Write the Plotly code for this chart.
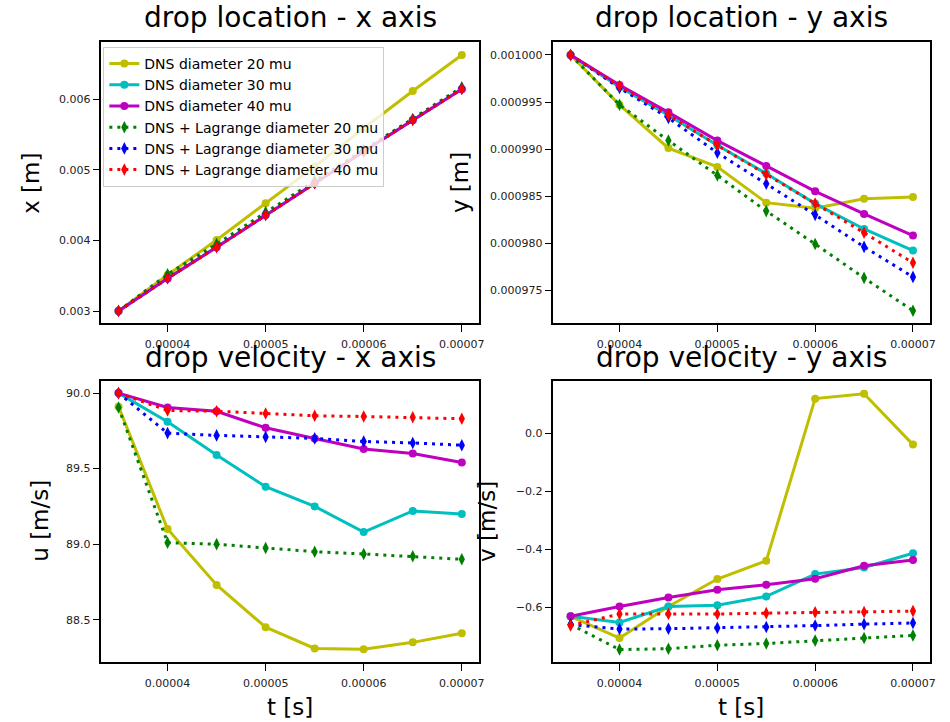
import plotly.graph_objects as go
from plotly.subplots import make_subplots

t = [0.000035, 0.00004, 0.000045, 0.00005, 0.000055, 0.00006, 0.000065, 0.00007]
tick_vals = [0.00004, 0.00005, 0.00006, 0.00007]
tick_text = ["0.00004", "0.00005", "0.00006", "0.00007"]

names = ["DNS diameter 20 mu", "DNS diameter 30 mu", "DNS diameter 40 mu",
         "DNS + Lagrange diameter 20 mu", "DNS + Lagrange diameter 30 mu",
         "DNS + Lagrange diameter 40 mu"]
colors = ["#bfbf00", "#00bfbf", "#bf00bf", "#008000", "#0000ff", "#ff0000"]

# drop location x [m]
x_dns20 = [0.003, 0.00351, 0.004006, 0.004525, 0.005045, 0.005588, 0.006116, 0.006626]
x_dns30 = [0.003, 0.003463, 0.003905, 0.004362, 0.004810, 0.005262, 0.005706, 0.006144]
x_dns40 = [0.003, 0.003460, 0.003902, 0.004358, 0.004807, 0.005258, 0.005703, 0.006140]
x_lag20 = [0.003, 0.003520, 0.003950, 0.004400, 0.004840, 0.005280, 0.005720, 0.006170]
x_lag30 = [0.003, 0.003465, 0.003908, 0.004362, 0.004812, 0.005262, 0.005708, 0.006148]
x_lag40 = [0.003, 0.003463, 0.003904, 0.004360, 0.004809, 0.005260, 0.005705, 0.006144]

# drop location y [m]
y_dns20 = [0.001000, 0.0009947, 0.0009901, 0.0009881, 0.0009843, 0.0009837, 0.0009847, 0.0009849]
y_dns30 = [0.001000, 0.0009966, 0.0009936, 0.0009904, 0.0009874, 0.0009842, 0.0009815, 0.0009792]
y_dns40 = [0.001000, 0.0009968, 0.0009939, 0.0009909, 0.0009882, 0.0009855, 0.0009831, 0.0009808]
y_lag20 = [0.001000, 0.0009947, 0.0009909, 0.0009872, 0.0009834, 0.0009799, 0.0009763, 0.0009728]
y_lag30 = [0.001000, 0.0009965, 0.0009933, 0.0009896, 0.0009863, 0.0009830, 0.0009796, 0.0009764]
y_lag40 = [0.001000, 0.0009967, 0.0009936, 0.0009904, 0.0009873, 0.0009842, 0.0009811, 0.0009779]

# drop velocity u [m/s]
u_dns20 = [89.91, 89.10, 88.73, 88.45, 88.31, 88.305, 88.35, 88.41]
u_dns30 = [90.00, 89.81, 89.59, 89.38, 89.25, 89.08, 89.22, 89.20]
u_dns40 = [90.00, 89.905, 89.88, 89.77, 89.70, 89.63, 89.60, 89.54]
u_lag20 = [89.905, 89.01, 89.00, 88.975, 88.95, 88.935, 88.92, 88.90]
u_lag30 = [90.00, 89.735, 89.72, 89.71, 89.70, 89.68, 89.67, 89.655]
u_lag40 = [90.00, 89.885, 89.88, 89.865, 89.85, 89.845, 89.84, 89.83]

# drop velocity v [m/s]
v_dns20 = [-0.632, -0.707, -0.598, -0.503, -0.440, 0.121, 0.138, -0.038]
v_dns30 = [-0.632, -0.653, -0.598, -0.594, -0.563, -0.486, -0.463, -0.414]
v_dns40 = [-0.632, -0.598, -0.567, -0.540, -0.523, -0.502, -0.457, -0.437]
v_lag20 = [-0.660, -0.747, -0.744, -0.732, -0.726, -0.716, -0.707, -0.698]
v_lag30 = [-0.660, -0.676, -0.675, -0.672, -0.669, -0.664, -0.659, -0.655]
v_lag40 = [-0.664, -0.624, -0.624, -0.624, -0.621, -0.618, -0.617, -0.614]

panels = [
    (1, 1, [x_dns20, x_dns30, x_dns40, x_lag20, x_lag30, x_lag40]),
    (1, 2, [y_dns20, y_dns30, y_dns40, y_lag20, y_lag30, y_lag40]),
    (2, 1, [u_dns20, u_dns30, u_dns40, u_lag20, u_lag30, u_lag40]),
    (2, 2, [v_dns20, v_dns30, v_dns40, v_lag20, v_lag30, v_lag40]),
]

fig = make_subplots(rows=2, cols=2)
FONT = "DejaVu Sans"

for pi, (r, c, series) in enumerate(panels):
    for i, vals in enumerate(series):
        lag = i >= 3
        fig.add_trace(go.Scatter(
            x=t, y=vals, mode="lines+markers", name=names[i],
            showlegend=(pi == 0),
            line=dict(color=colors[i], width=3,
                      dash="3px,5px" if lag else "solid"),
            marker=dict(symbol="diamond-tall" if lag else "circle",
                        size=9 if lag else 8, color=colors[i],
                        line=dict(width=0)),
        ), row=r, col=c)

W, H = 950, 722
xd_l = [102 / W, 482 / W]
xd_r = [557 / W, 936 / W]
yd_t = [1 - 323 / H, 1 - 42 / H]
yd_b = [1 - 662 / H, 1 - 381 / H]

axis_common = dict(showline=True, mirror=True, linecolor="black", linewidth=1.5,
                   ticks="outside", ticklen=7, tickwidth=1.2, tickcolor="black",
                   showgrid=False, zeroline=False,
                   tickfont=dict(family=FONT, size=11, color="#222"))

xr = [0.00003325, 0.00007175]
for ax, dom in [("xaxis", xd_l), ("xaxis2", xd_r), ("xaxis3", xd_l), ("xaxis4", xd_r)]:
    fig.layout[ax].update(domain=dom, range=xr, tickmode="array",
                          tickvals=tick_vals, ticktext=tick_text,
                          ticklabelstandoff=3, **axis_common)

fig.layout.yaxis.update(domain=yd_t, range=[0.00283, 0.00681], tickformat=".3f",
                        dtick=0.001, **axis_common)
fig.layout.yaxis2.update(domain=yd_t, range=[0.0009715, 0.00100138], tickformat=".6f",
                         dtick=0.000005, **axis_common)
fig.layout.yaxis3.update(domain=yd_b, range=[88.22, 90.08], tickformat=".1f",
                         dtick=0.5, **axis_common)
fig.layout.yaxis4.update(domain=yd_b, range=[-0.79, 0.182], tickformat=".1f",
                         dtick=0.2, **axis_common)

ann = []
def add_text(txt, x, y, size, angle=0):
    ann.append(dict(text=txt, x=x / W, y=1 - y / H, xref="paper", yref="paper",
                    showarrow=False, xanchor="center", yanchor="middle",
                    textangle=angle, font=dict(family=FONT, size=size, color="black")))

add_text("drop location - x axis", 292, 18, 28)
add_text("drop location - y axis", 746, 18, 28)
add_text("drop velocity - x axis", 292, 357, 28)
add_text("drop velocity - y axis", 746, 357, 28)
add_text("x [m]", 31, 183, 23, -90)
add_text("y [m]", 463, 183, 23, -90)
add_text("u [m/s]", 40, 521, 23, -90)
add_text("v [m/s]", 490, 521, 23, -90)
add_text("t [s]", 292, 707, 23)
add_text("t [s]", 746, 707, 23)

fig.update_layout(
    width=W, height=H, margin=dict(l=0, r=0, t=0, b=0),
    paper_bgcolor="white", plot_bgcolor="white",
    annotations=ann,
    legend=dict(x=104 / W, y=1 - 47 / H, xanchor="left", yanchor="top",
                bgcolor="rgba(255,255,255,0.8)", bordercolor="#cccccc", borderwidth=1,
                font=dict(family=FONT, size=14, color="black"), tracegroupgap=0,
                itemwidth=30),
    font=dict(family=FONT),
)

fig.write_html("out.html")
